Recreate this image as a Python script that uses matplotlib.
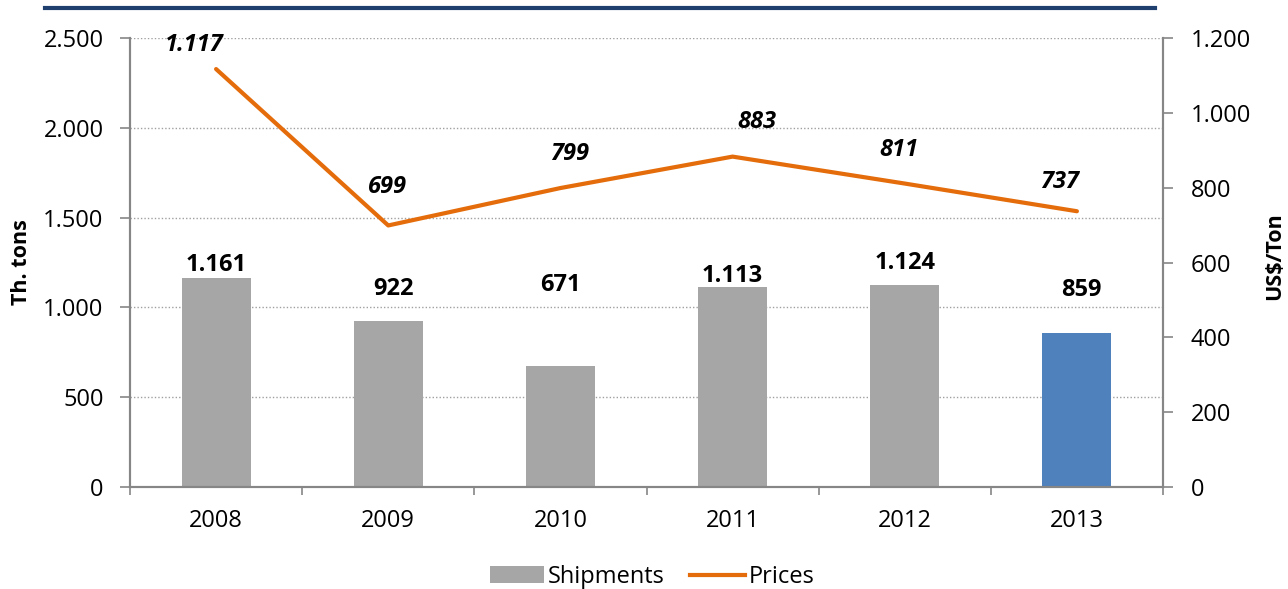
import matplotlib
matplotlib.use("Agg")
import matplotlib.pyplot as plt
from matplotlib.lines import Line2D
from matplotlib.patches import Patch

years = ["2008", "2009", "2010", "2011", "2012", "2013"]
shipments = [1161, 922, 671, 1113, 1124, 859]
prices = [1117, 699, 799, 883, 811, 737]
ship_labels = ["1.161", "922", "671", "1.113", "1.124", "859"]
price_labels = ["1.117", "699", "799", "883", "811", "737"]
# label placement: (x shift in categories, height in axis units)
ship_label_dx = [0.0, 0.03, 0.0, 0.0, 0.0, 0.023]
ship_label_y = [1236, 1102, 1125, 1175, 1247, 1097]
price_label_dx = [-0.128, -0.006, 0.055, 0.14, -0.035, -0.1]
price_label_y = [1181, 802, 890, 975, 901, 815]

plt.rcParams['font.family'] = ['Open Sans', 'DejaVu Sans']

grey = "#A6A6A6"
blue = "#4F81BD"
orange = "#E46C0A"
axis_col = "#868686"
fs = 17

fig = plt.figure(figsize=(12.88, 5.89), dpi=100)
ax = fig.add_axes([130 / 1288, 1 - 487 / 589, 1033 / 1288, 449 / 589])
ax2 = ax.twinx()

x = list(range(len(years)))
colors = [grey] * 5 + [blue]
ax.bar(x, shipments, width=0.4, color=colors, zorder=2)
ax.set_xlim(-0.5, 5.5)
ax.set_ylim(0, 2500)
ax.set_yticks(range(0, 2501, 500))
ax.set_yticklabels(["0", "500", "1.000", "1.500", "2.000", "2.500"])
ax.yaxis.grid(True, linestyle=(0, (1, 1.5)), color="#A0A0A0", linewidth=1)
ax.set_axisbelow(True)

for i in x:
    ax.text(i + ship_label_dx[i], ship_label_y[i], ship_labels[i],
            ha="center", va="center", fontsize=fs, fontweight="bold")

ax2.plot(x, prices, color=orange, linewidth=3, solid_capstyle="round", zorder=3)
ax2.set_ylim(0, 1200)
ax2.set_yticks(range(0, 1201, 200))
ax2.set_yticklabels(["0", "200", "400", "600", "800", "1.000", "1.200"])
for i in x:
    ax2.text(i + price_label_dx[i], price_label_y[i], price_labels[i],
             ha="center", va="center", fontsize=fs, fontweight="bold",
             style="italic")

ax.set_xticks(x)
ax.set_xticklabels(years)
ax.set_xticks([i + 0.5 for i in range(-1, 6)], minor=True)
ax.tick_params(axis="x", which="major", length=0, pad=16, labelsize=fs)
ax.tick_params(axis="x", which="minor", length=6, color=axis_col, width=1.2)
ax.tick_params(axis="y", length=7, color=axis_col, width=1.2, labelsize=fs, pad=12)
ax2.tick_params(axis="y", length=7, color=axis_col, width=1.2, labelsize=fs, pad=13)

for a in (ax, ax2):
    a.spines["top"].set_visible(False)
    for s in ("left", "right", "bottom"):
        a.spines[s].set_color(axis_col)
        a.spines[s].set_linewidth(1.5)

ax.set_ylabel("Th. tons", fontsize=15.5, fontweight="bold")
ax2.set_ylabel("US$/Ton", fontsize=15.5, fontweight="bold", rotation=90)
ax.yaxis.set_label_coords(-98 / 1033, 0.5)
ax2.yaxis.set_label_coords(1 + 101 / 1033, 0.515)

# heading rule across the top
fig.add_artist(Line2D([45 / 1288, 1155 / 1288], [1 - 8 / 589, 1 - 8 / 589],
                      color="#1F3F6E", linewidth=3))

handles = [Patch(facecolor=grey, label="Shipments"),
           Line2D([0], [0], color=orange, linewidth=3, label="Prices")]
fig.legend(handles=handles, loc="center", bbox_to_anchor=(652 / 1288, 1 - 577 / 589),
           ncol=2, frameon=False, fontsize=fs, handlelength=2.3,
           handletextpad=0.15, columnspacing=1.1)

fig.savefig("out.png", dpi=100)
